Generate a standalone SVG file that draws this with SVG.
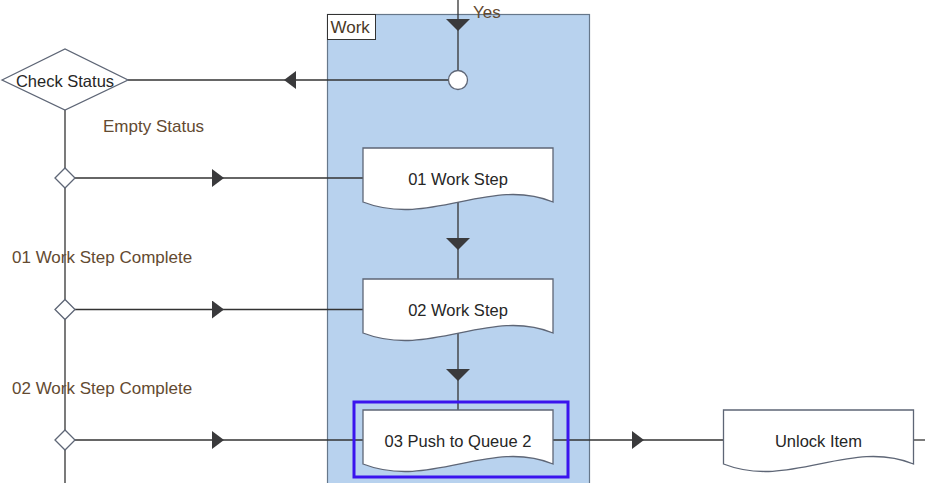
<svg xmlns="http://www.w3.org/2000/svg" width="925" height="483" viewBox="0 0 925 483">
<style>
.lane{fill:#b8d2ee;stroke:#66778a;stroke-width:1.2}
.lbox{fill:#ffffff;stroke:#333333;stroke-width:1}
.shape{fill:#ffffff;stroke:#5e6676;stroke-width:1.3}
.conn{fill:none;stroke:#333333;stroke-width:1.3}
.sel{fill:none;stroke:#3a14ee;stroke-width:3}
.nt{font-family:"Liberation Sans",Arial,sans-serif;font-size:16.5px;fill:#262626;text-anchor:middle}
.et{font-family:"Liberation Sans",Arial,sans-serif;font-size:17px;fill:#634a31}
</style>
<defs>
<marker id="triH" markerUnits="userSpaceOnUse" markerWidth="12" markerHeight="18" viewBox="0 0 12 18" refX="6" refY="9" orient="auto">
<path d="M0,0 L12,9 L0,18 Z" fill="#3a3a3c"/>
</marker>
<marker id="triV" markerUnits="userSpaceOnUse" markerWidth="12" markerHeight="24" viewBox="0 0 12 24" refX="6" refY="12" orient="auto">
<path d="M0,0 L12,12 L0,24 Z" fill="#3a3a3c"/>
</marker>
</defs>
<rect width="925" height="483" fill="#ffffff"/>
<g id="lane-work">
<rect class="lane" x="327.5" y="14.5" width="262" height="480"/>
<rect class="lbox" x="327.5" y="14.5" width="48" height="25"/>
<text class="et" x="330.5" y="33" style="fill:#4a3826">Work</text>
</g>
<g id="connectors">
<path class="conn" d="M458,0 L458,25 L458,71" marker-mid="url(#triV)"/>
<path class="conn" d="M449,80 L290,80 L128,80" marker-mid="url(#triH)"/>
<path class="conn" d="M65,110 L65,483"/>
<path class="conn" d="M75,178 L218,178 L363,178" marker-mid="url(#triH)"/>
<path class="conn" d="M75,309.5 L218,309.5 L363,309.5" marker-mid="url(#triH)"/>
<path class="conn" d="M75,440 L218,440 L363,440" marker-mid="url(#triH)"/>
<path class="conn" d="M458,200 L458,244 L458,279" marker-mid="url(#triV)"/>
<path class="conn" d="M458,331 L458,375 L458,410" marker-mid="url(#triV)"/>
<path class="conn" d="M553,440 L638,440 L723,440" marker-mid="url(#triH)"/>
<path class="conn" d="M913,440 L925,440"/>
<text class="et" x="473" y="18">Yes</text>
<text class="et" x="103" y="132">Empty Status</text>
<text class="et" x="12" y="263">01 Work Step Complete</text>
<text class="et" x="12" y="394">02 Work Step Complete</text>
</g>
<g id="check-status">
<path class="shape" d="M2,80 L65,49 L128,80 L65,110 Z"/>
<text class="nt" x="65" y="87">Check Status</text>
</g>
<g id="merge-circle">
<circle class="shape" cx="458" cy="80" r="9.5"/>
</g>
<g id="gw1"><path class="shape" d="M55,178 L65,168 L75,178 L65,188 Z"/></g>
<g id="gw2"><path class="shape" d="M55,309.5 L65,299.5 L75,309.5 L65,319.5 Z"/></g>
<g id="gw3"><path class="shape" d="M55,440 L65,430 L75,440 L65,450 Z"/></g>
<g id="step01">
<path class="shape" d="M363,148 H553 V202 C490,176 430,228 363,202 Z"/>
<text class="nt" x="458" y="185">01 Work Step</text>
</g>
<g id="step02">
<path class="shape" d="M363,279 H553 V333 C490,307 430,359 363,333 Z"/>
<text class="nt" x="458" y="316">02 Work Step</text>
</g>
<g id="step03">
<path class="shape" d="M363,410 H553 V464 C490,438 430,490 363,464 Z"/>
<text class="nt" x="458" y="447">03 Push to Queue 2</text>
<rect class="sel" x="354" y="402" width="214" height="75"/>
</g>
<g id="unlock-item">
<path class="shape" d="M723.5,410 H913.5 V464 C850,438 790,490 723.5,464 Z"/>
<text class="nt" x="818.5" y="447">Unlock Item</text>
</g>
</svg>
